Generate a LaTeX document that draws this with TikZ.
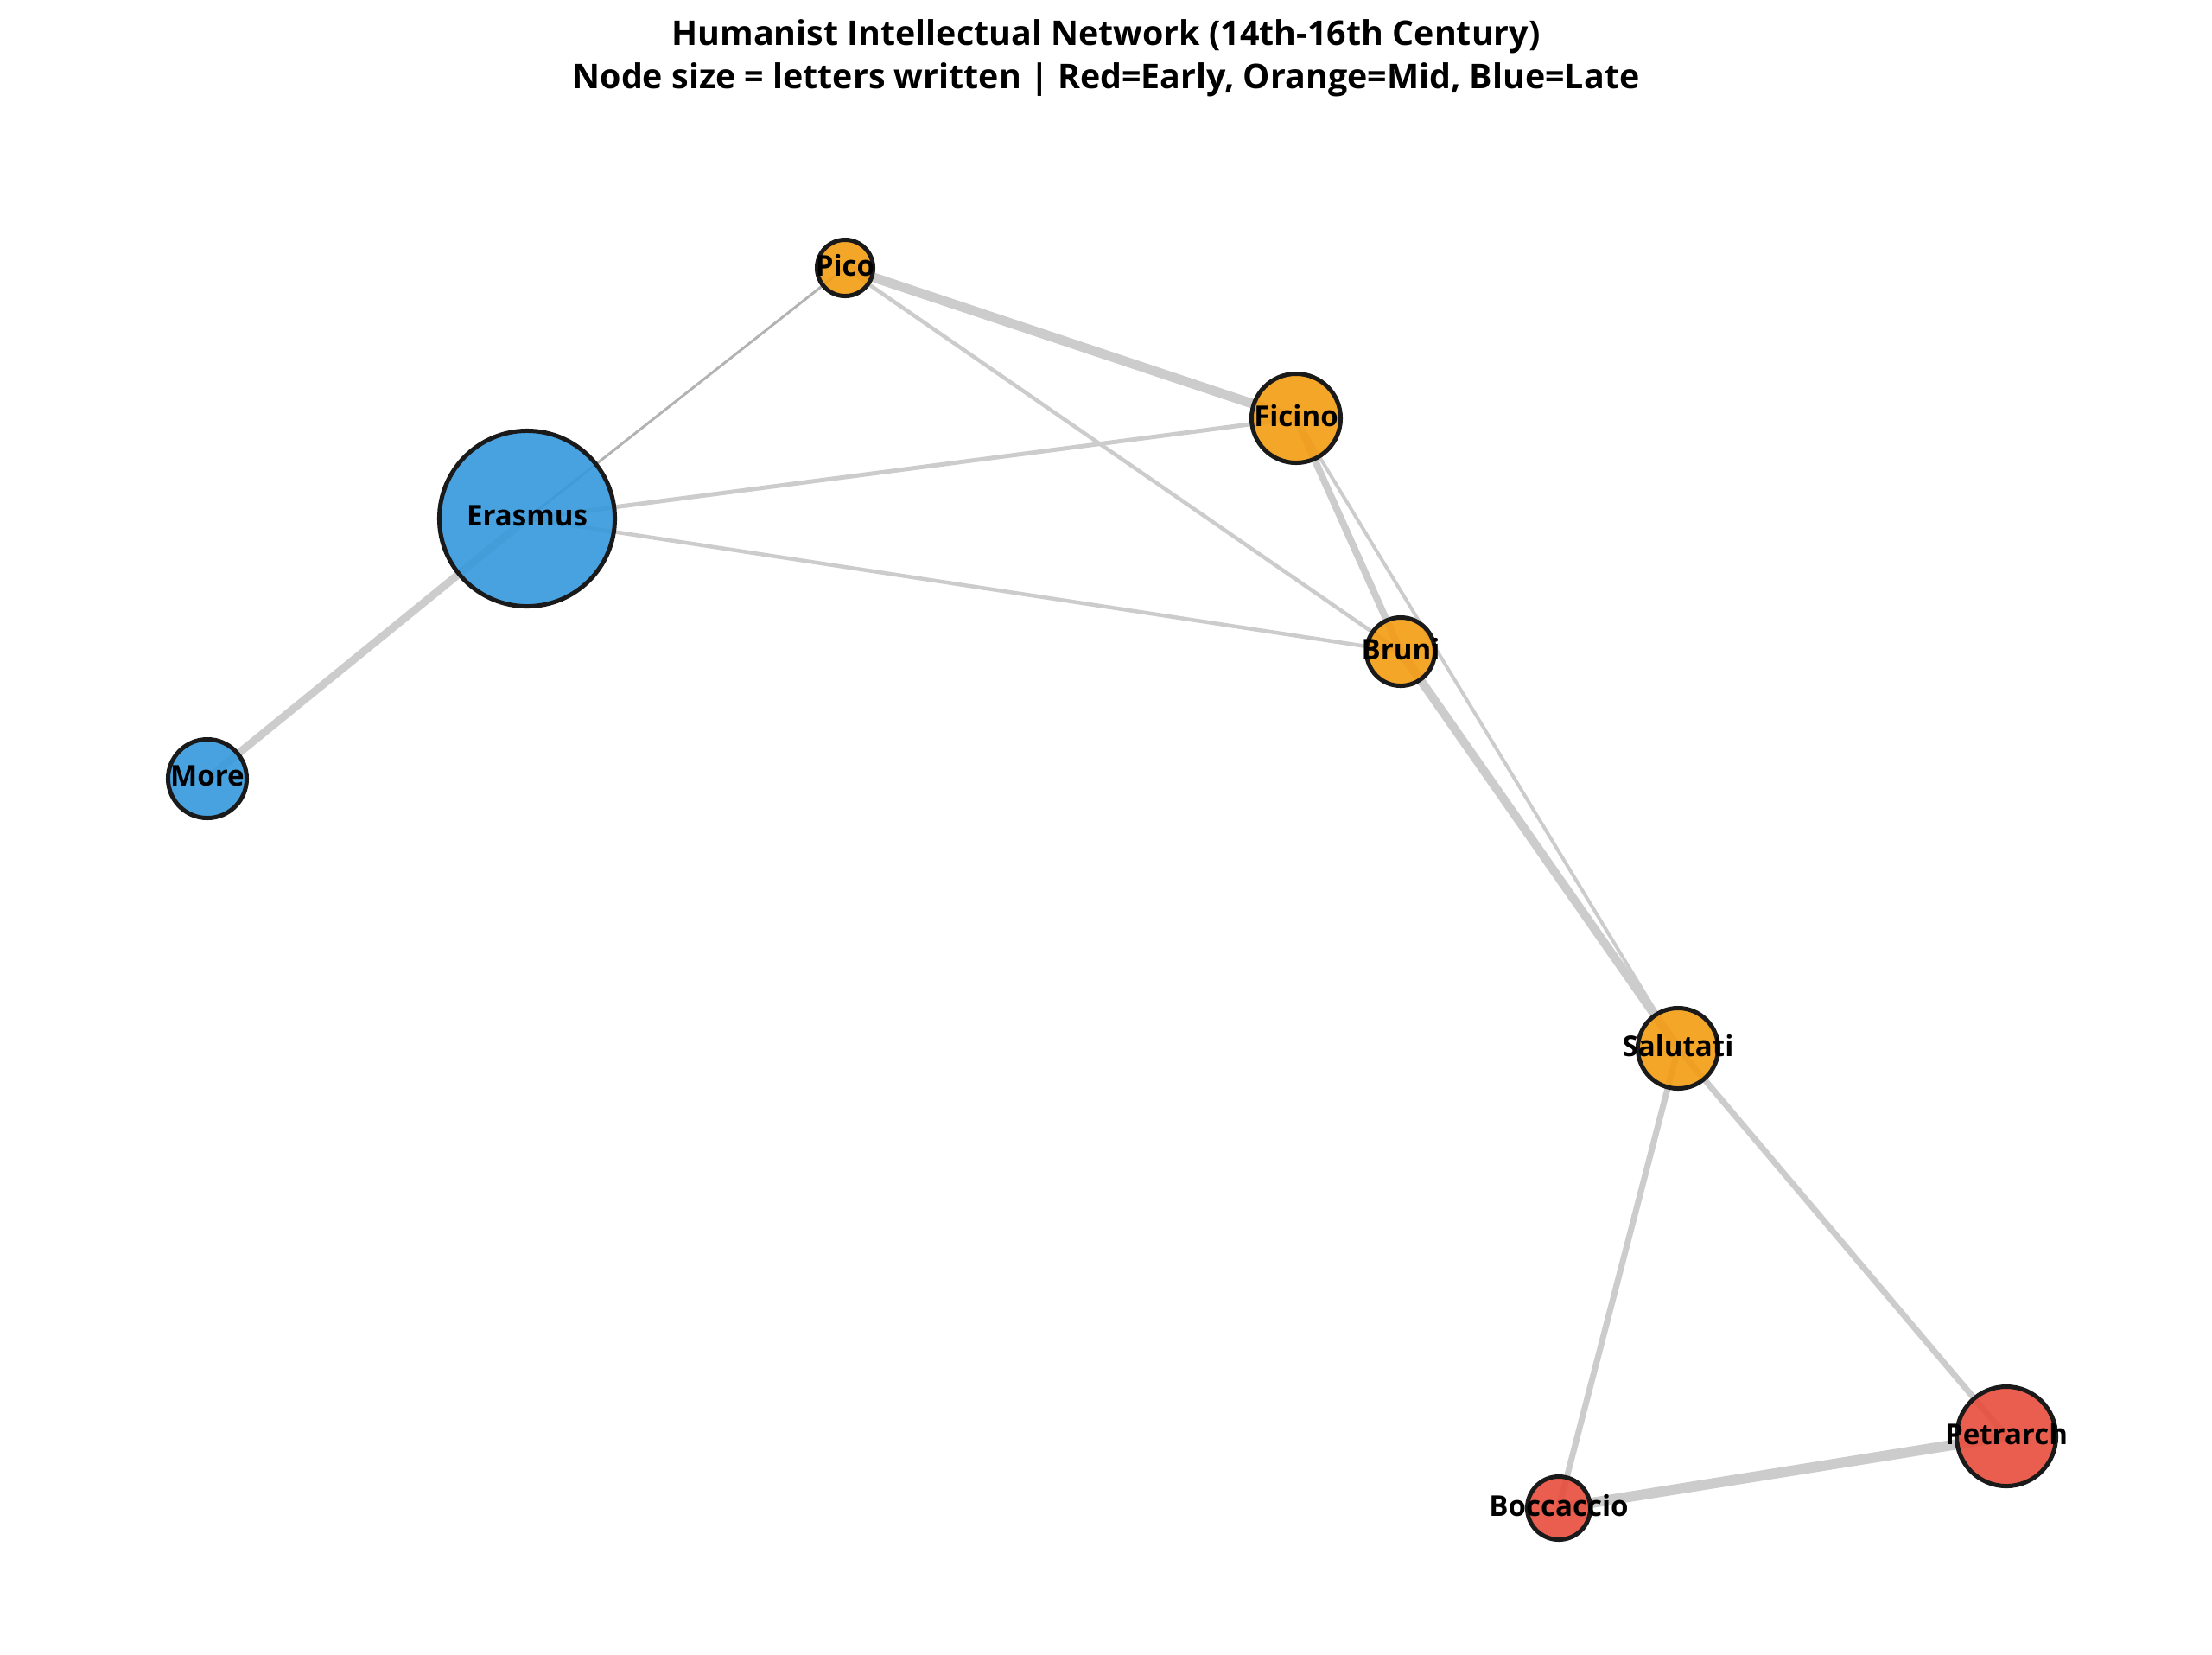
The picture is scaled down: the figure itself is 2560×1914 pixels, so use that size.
\documentclass[tikz,border=0pt]{standalone}
\usepackage{fontspec}
\setmainfont{Open Sans}
\usetikzlibrary{backgrounds}

\definecolor{early}{HTML}{E74C3C}
\definecolor{mid}{HTML}{F39C12}
\definecolor{late}{HTML}{3498DB}
\definecolor{edgegray}{HTML}{CCCCCC}
\definecolor{edgedark}{HTML}{B3B3B3}
\definecolor{rim}{HTML}{1A1A1A}

\begin{document}
\begin{tikzpicture}[x=0.01cm,y=-0.01cm,
  scholar/.style={circle,draw=rim,line width=0.5mm,fill opacity=0.9,inner sep=0pt},
  namelabel/.style={font=\fontsize{9.4}{11}\selectfont\bfseries,text opacity=1,inner sep=0pt,yshift=0.3mm},
  letters/.style={draw=edgegray,line width=#1}]
  \useasboundingbox (0,0) rectangle (2560,1914);

  % title
  \node[anchor=base,font=\fontsize{11.2}{13}\selectfont\bfseries] (title1) at (1280,52) {Humanist Intellectual Network (14th-16th Century)};
  \node[anchor=base,font=\fontsize{11.2}{13}\selectfont\bfseries] (title2) at (1280,102) {Node size = letters written | Red=Early, Orange=Mid, Blue=Late};

  % scholars
  \node[scholar,fill=mid,minimum size=6.5mm,label={[namelabel]center:Pico}] (pico) at (978,310) {};
  \node[scholar,fill=mid,minimum size=10.3mm,label={[namelabel]center:Ficino}] (ficino) at (1500,484) {};
  \node[scholar,fill=late,minimum size=20.3mm,label={[namelabel]center:Erasmus}] (erasmus) at (610,600) {};
  \node[scholar,fill=mid,minimum size=7.9mm,label={[namelabel]center:Bruni}] (bruni) at (1621,754) {};
  \node[scholar,fill=late,minimum size=9.1mm,label={[namelabel]center:More}] (more) at (240,901) {};
  \node[scholar,fill=mid,minimum size=9.3mm,label={[namelabel]center:Salutati}] (salutati) at (1942,1213) {};
  \node[scholar,fill=early,minimum size=11.5mm,label={[namelabel]center:Petrarch}] (petrarch) at (2322,1662) {};
  \node[scholar,fill=early,minimum size=7.3mm,label={[namelabel]center:Boccaccio}] (boccaccio) at (1804,1745) {};

  % correspondence
  \begin{scope}[on background layer]
    \draw[letters=0.3mm,draw=edgedark] (pico.center) -- (erasmus.center);
    \draw[letters=1.1mm] (pico.center) -- (ficino.center);
    \draw[letters=0.45mm] (pico.center) -- (bruni.center);
    \draw[letters=0.5mm] (erasmus.center) -- (ficino.center);
    \draw[letters=0.45mm] (erasmus.center) -- (bruni.center);
    \draw[letters=0.9mm] (erasmus.center) -- (more.center);
    \draw[letters=0.8mm] (ficino.center) -- (bruni.center);
    \draw[letters=0.4mm] (ficino.center) -- (salutati.center);
    \draw[letters=1.0mm] (bruni.center) -- (salutati.center);
    \draw[letters=0.7mm] (salutati.center) -- (boccaccio.center);
    \draw[letters=0.7mm] (salutati.center) -- (petrarch.center);
    \draw[letters=1.2mm] (boccaccio.center) -- (petrarch.center);
  \end{scope}
\end{tikzpicture}
\end{document}
